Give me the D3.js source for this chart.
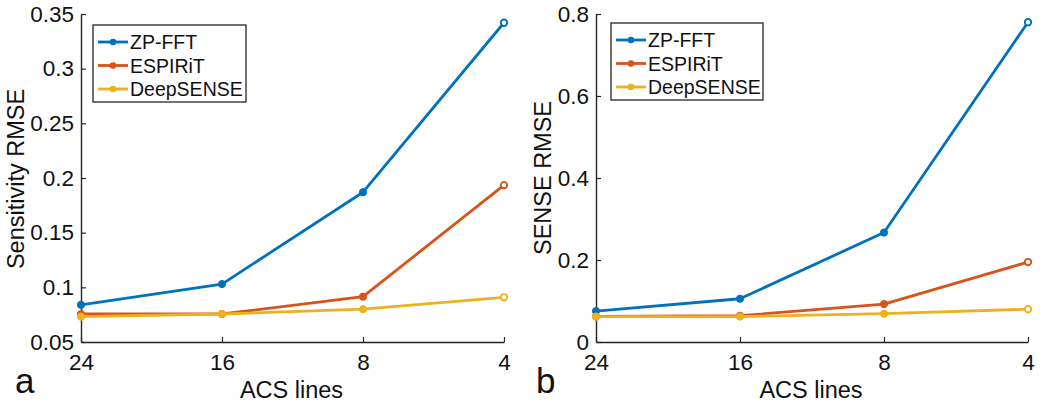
<!DOCTYPE html>
<html><head><meta charset="utf-8">
<script src="https://cdn.jsdelivr.net/npm/d3@7"></script>
<style>body{margin:0;background:#fff;} text{font-family:"Liberation Sans",Arial,Helvetica,sans-serif;}</style>
</head><body>
<svg id="chart" width="1050" height="406"></svg>
<script>
const categories = ["24", "16", "8", "4"];
const seriesNames = ["ZP-FFT", "ESPIRiT", "DeepSENSE"];
const colors = ["#0072BD", "#D95319", "#EDB120"];
// Panel a: Sensitivity RMSE
const sensZP = [0.084, 0.103, 0.187, 0.342];
const sensESP = [0.0756, 0.0756, 0.0915, 0.1935];
const sensDeep = [0.0732, 0.0756, 0.080, 0.0909];
const ticksA = [0.05, 0.1, 0.15, 0.2, 0.25, 0.3, 0.35];
// Panel b: SENSE RMSE
const senseZP = [0.0755, 0.1055, 0.267, 0.780];
const senseESP = [0.0624, 0.064, 0.0926, 0.195];
const senseDeep = [0.0617, 0.062, 0.069, 0.080];
const ticksB = [0, 0.2, 0.4, 0.6, 0.8];

const svg = d3.select("#chart");

function panel(opt) {
  const x = d3.scalePoint().domain(categories).range([opt.x0, opt.x1]);
  const y = d3.scaleLinear().domain(opt.domain).range([opt.yb, opt.yt]);
  const g = svg.append("g");
  // axes
  const ax = g.append("g").attr("transform", `translate(0,${opt.yb})`)
    .call(d3.axisBottom(x).tickSizeInner(-5).tickSizeOuter(0).tickPadding(12));
  const ay = g.append("g").attr("transform", `translate(${opt.x0},0)`)
    .call(d3.axisLeft(y).tickValues(opt.ticks).tickFormat(d => String(+d.toFixed(2))).tickSizeInner(-5).tickSizeOuter(0).tickPadding(7));
  [ax, ay].forEach(a => {
    a.select(".domain").attr("stroke", "#262626").attr("stroke-width", 1.4);
    a.selectAll(".tick line").attr("stroke", "#262626").attr("stroke-width", 1.2);
    a.selectAll(".tick text").attr("fill", "#111").attr("font-size", 22.5);
  });
  ax.selectAll(".tick text").attr("dy", "0.71em");
  // lines
  const line = d3.line().x((d, i) => x(categories[i])).y(d => y(d));
  opt.series.forEach((vals, si) => {
    g.append("path").datum(vals).attr("d", line)
      .attr("fill", "none").attr("stroke", colors[si]).attr("stroke-width", 2.8)
      .attr("stroke-linejoin", "round");
    g.selectAll(null).data(vals).enter().append("circle")
      .attr("cx", (d, i) => x(categories[i])).attr("cy", d => y(d))
      .attr("r", (d, i) => i === vals.length - 1 ? 3.2 : 3.6)
      .attr("fill", (d, i) => i === vals.length - 1 ? "#fff" : colors[si])
      .attr("stroke", colors[si]).attr("stroke-width", (d, i) => i === vals.length - 1 ? 1.9 : 1);
  });
  // legend
  const lg = g.append("g");
  lg.append("rect").attr("x", opt.lx).attr("y", opt.ly).attr("width", opt.lw).attr("height", 77)
    .attr("fill", "#fff").attr("stroke", "#262626").attr("stroke-width", 1.3);
  seriesNames.forEach((n, i) => {
    const yy = opt.ly + 17 + i * 23.5;
    lg.append("line").attr("x1", opt.lx + 5).attr("x2", opt.lx + 35).attr("y1", yy).attr("y2", yy)
      .attr("stroke", colors[i]).attr("stroke-width", 2.8);
    lg.append("circle").attr("cx", opt.lx + 20).attr("cy", yy).attr("r", 3.3).attr("fill", colors[i]);
    lg.append("text").attr("x", opt.lx + 37).attr("y", yy).attr("dy", "0.36em")
      .attr("font-size", 19.5).attr("fill", "#111").text(n);
  });
  // axis labels
  g.append("text").attr("x", (opt.x0 + opt.x1) / 2 - 1).attr("y", 398).attr("text-anchor", "middle")
    .attr("font-size", 23.5).attr("fill", "#111").text("ACS lines");
  g.append("text").attr("transform", `translate(${opt.ylx},${opt.ylc}) rotate(-90)`)
    .attr("text-anchor", "middle").attr("font-size", 23.5).attr("fill", "#111").text(opt.ylabel);
  g.append("text").attr("x", opt.px).attr("y", 393).attr("font-size", 35).attr("fill", "#111").text(opt.plabel);
}

panel({x0: 81, x1: 504, yb: 342, yt: 14, domain: [0.05, 0.35], ticks: ticksA,
  series: [sensZP, sensESP, sensDeep], lx: 93, ly: 25, lw: 153,
  ylabel: "Sensitivity RMSE", ylx: 24, ylc: 179, plabel: "a", px: 15});
panel({x0: 596, x1: 1028, yb: 342, yt: 14, domain: [0, 0.8], ticks: ticksB,
  series: [senseZP, senseESP, senseDeep], lx: 611, ly: 23, lw: 152,
  ylabel: "SENSE RMSE", ylx: 551, ylc: 178, plabel: "b", px: 536});
</script>
</body></html>
